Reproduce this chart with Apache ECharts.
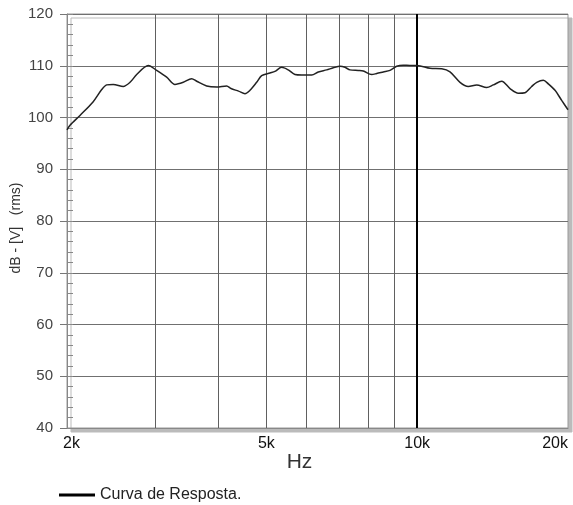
<!DOCTYPE html>
<html>
<head>
<meta charset="utf-8">
<script src="https://cdn.jsdelivr.net/npm/echarts@6/dist/echarts.min.js"></script>
<style>
html,body{margin:0;padding:0;background:#fff;}
#c{width:573px;height:505px;}
</style>
</head>
<body>
<div id="c"></div>
<script>
// Frequency (Hz) and level (dB)
var freqHz = [2000, 2028, 2123, 2254, 2346, 2400, 2474, 2590, 2672, 2755, 2906, 3020, 3162, 3285, 3413, 3547, 3630, 3800, 3979, 4166, 4250, 4400, 4532, 4637, 4782, 4893, 5083, 5201, 5364, 5529, 5703, 5881, 6158, 6347, 6597, 6800, 7013, 7176, 7343, 7628, 7805, 8113, 8301, 8557, 8825, 9101, 9381, 9675, 10000, 10607, 11192, 11628, 12175, 12648, 13146, 13764, 14189, 14748, 15321, 15916, 16414, 16928, 17322, 17856, 18271, 18842, 19429, 20000];
var levelDb = [97.6, 98.5, 100.4, 103.0, 105.4, 106.3, 106.4, 106.0, 106.8, 108.3, 110.05, 109.1, 107.8, 106.4, 106.8, 107.5, 107.0, 106.1, 105.9, 106.1, 105.6, 105.1, 104.6, 105.25, 106.8, 108.1, 108.6, 108.9, 109.7, 109.2, 108.3, 108.2, 108.2, 108.8, 109.2, 109.6, 109.9, 109.7, 109.2, 109.1, 109.0, 108.3, 108.5, 108.8, 109.1, 109.9, 110.1, 110.05, 110.05, 109.5, 109.4, 108.8, 106.8, 106.0, 106.3, 105.8, 106.3, 107.0, 105.6, 104.7, 104.8, 106.0, 106.8, 107.2, 106.5, 105.25, 103.3, 101.5];
var xLabelValues = [2000, 5000, 10000, 20000];
var xLabelTexts = ['2k', '5k', '10k', '20k'];
var xGridValues = [3000, 4000, 5000, 6000, 7000, 8000, 9000];
var xMainGridValue = 10000;
var seriesName = 'Curva de Resposta.';

var points = freqHz.map(function (f, i) { return [f, levelDb[i]]; });
var font = "'Liberation Sans', Arial, sans-serif";

var gridLines = xGridValues.map(function (v) { return { xAxis: v }; });
gridLines.push({ xAxis: xMainGridValue, lineStyle: { color: '#000', width: 2 } });

var chart = echarts.init(document.getElementById('c'), null, { renderer: 'canvas' });
chart.setOption({
  animation: false,
  backgroundColor: '#fff',
  textStyle: { fontFamily: font },
  grid: {
    show: true,
    left: 67, right: 5, top: 14, bottom: 77,
    containLabel: false,
    outerBoundsMode: 'none',
    backgroundColor: '#fff',
    borderColor: '#999',
    borderWidth: 1,
    shadowColor: '#bbb',
    shadowOffsetX: 4,
    shadowOffsetY: 4,
    shadowBlur: 0
  },
  legend: {
    show: true,
    left: 54,
    top: 482,
    icon: 'rect',
    itemWidth: 36,
    itemHeight: 3,
    itemGap: 10,
    textStyle: { fontSize: 16, color: '#222', fontFamily: font },
    data: [seriesName]
  },
  xAxis: {
    type: 'log',
    logBase: 10,
    min: 2000,
    max: 20000,
    name: 'Hz',
    nameLocation: 'middle',
    nameGap: 24,
    nameMoveOverlap: false,
    nameTextStyle: { fontSize: 21, color: '#333', padding: [0, 36, 0, 0] },
    axisLine: { show: true, lineStyle: { color: '#888', width: 1 } },
    axisTick: { show: false },
    splitLine: { show: false },
    axisLabel: {
      customValues: xLabelValues,
      fontSize: 16,
      color: '#111',
      margin: 8,
      alignMinLabel: 'center',
      alignMaxLabel: 'right',
      formatter: function (v) {
        var i = xLabelValues.indexOf(Math.round(v));
        if (i === 0) return '{a|' + xLabelTexts[i] + '}';
        return i >= 0 ? xLabelTexts[i] : '';
      },
      rich: {
        a: { fontSize: 16, color: '#111', padding: [0, 0, 0, 9] }
      }
    }
  },
  yAxis: [{
    type: 'value',
    min: 40,
    max: 120,
    interval: 10,
    name: 'dB - [V]   (rms)',
    nameLocation: 'middle',
    nameGap: 44,
    nameRotate: 90,
    nameMoveOverlap: false,
    nameTextStyle: { fontSize: 14, color: '#333', padding: [0, 14, 0, 0] },
    axisLine: { show: true, lineStyle: { color: '#888' } },
    axisTick: { show: true, inside: false, length: 7, lineStyle: { color: '#777' } },
    axisLabel: { fontSize: 15, color: '#444', margin: 14 },
    splitLine: { show: true, lineStyle: { color: '#707070', width: 1 } }
  }, {
    type: 'value',
    min: 40,
    max: 120,
    interval: 2,
    position: 'left',
    offset: 0,
    axisLine: { show: false },
    axisTick: { show: true, inside: true, length: 6, lineStyle: { color: '#888' } },
    axisLabel: { show: false },
    splitLine: { show: false }
  }],
  series: [{
    name: seriesName,
    type: 'line',
    yAxisIndex: 0,
    data: points,
    smooth: 0.3,
    showSymbol: false,
    symbol: 'none',
    itemStyle: { color: '#000' },
    lineStyle: { color: '#222', width: 1.5 },
    markLine: {
      silent: true,
      symbol: 'none',
      label: { show: false },
      lineStyle: { color: '#606060', width: 1, type: 'solid' },
      data: gridLines,
      z: 1
    },
    z: 3
  }]
});
</script>
</body>
</html>
